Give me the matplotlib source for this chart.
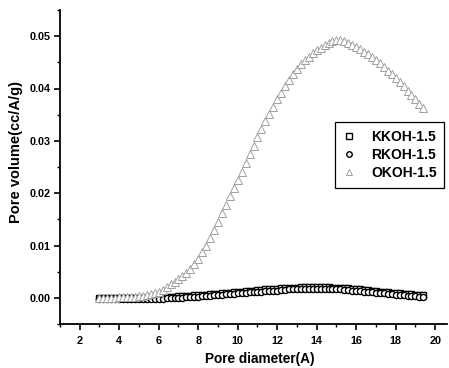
import matplotlib
matplotlib.use("Agg")
import matplotlib.pyplot as plt
from matplotlib.ticker import MultipleLocator

pore_diameter = [3.0, 3.2, 3.4, 3.6, 3.8, 4.0, 4.2, 4.4, 4.6, 4.8,
                 5.0, 5.2, 5.4, 5.6, 5.8, 6.0, 6.2, 6.4, 6.6, 6.8,
                 7.0, 7.2, 7.4, 7.6, 7.8, 8.0, 8.2, 8.4, 8.6, 8.8,
                 9.0, 9.2, 9.4, 9.6, 9.8, 10.0, 10.2, 10.4, 10.6, 10.8,
                 11.0, 11.2, 11.4, 11.6, 11.8, 12.0, 12.2, 12.4, 12.6, 12.8,
                 13.0, 13.2, 13.4, 13.6, 13.8, 14.0, 14.2, 14.4, 14.6, 14.8,
                 15.0, 15.2, 15.4, 15.6, 15.8, 16.0, 16.2, 16.4, 16.6, 16.8,
                 17.0, 17.2, 17.4, 17.6, 17.8, 18.0, 18.2, 18.4, 18.6, 18.8,
                 19.0, 19.2, 19.4]

kkoh = [0.0000, 0.0000, 0.0000, 0.0000, 0.0000, 0.0000, 0.0000, 0.0000, 0.0000, 0.0000,
        0.0000, 0.0000, 0.0000, 0.0001, 0.0001, 0.0001, 0.0001, 0.0002, 0.0002, 0.0002,
        0.0003, 0.0003, 0.0004, 0.0004, 0.0005, 0.0005, 0.0006, 0.0006, 0.0007, 0.0008,
        0.0008, 0.0009, 0.0010, 0.0010, 0.0011, 0.0012, 0.0012, 0.0013, 0.0014, 0.0014,
        0.0015, 0.0015, 0.0016, 0.0016, 0.0017, 0.0017, 0.0018, 0.0018, 0.0019, 0.0019,
        0.0019, 0.0020, 0.0020, 0.0020, 0.0020, 0.0020, 0.0020, 0.0020, 0.0020, 0.0019,
        0.0019, 0.0019, 0.0018, 0.0018, 0.0017, 0.0017, 0.0016, 0.0015, 0.0015, 0.0014,
        0.0013, 0.0012, 0.0012, 0.0011, 0.0010, 0.0009, 0.0009, 0.0008, 0.0007, 0.0007,
        0.0006, 0.0005, 0.0005]

rkoh = [-0.0003, -0.0003, -0.0003, -0.0003, -0.0003, -0.0003, -0.0003, -0.0003, -0.0003, -0.0003,
        -0.0003, -0.0003, -0.0003, -0.0002, -0.0002, -0.0002, -0.0002, -0.0001, -0.0001, -0.0001,
        0.0000, 0.0000, 0.0001, 0.0001, 0.0002, 0.0002, 0.0003, 0.0003, 0.0004, 0.0005,
        0.0005, 0.0006, 0.0007, 0.0007, 0.0008, 0.0009, 0.0009, 0.0010, 0.0011, 0.0011,
        0.0012, 0.0012, 0.0013, 0.0013, 0.0014, 0.0014, 0.0015, 0.0015, 0.0016, 0.0016,
        0.0016, 0.0017, 0.0017, 0.0017, 0.0017, 0.0017, 0.0017, 0.0017, 0.0017, 0.0016,
        0.0016, 0.0016, 0.0015, 0.0015, 0.0014, 0.0014, 0.0013, 0.0012, 0.0012, 0.0011,
        0.0010, 0.0009, 0.0009, 0.0008, 0.0007, 0.0006, 0.0006, 0.0005, 0.0004, 0.0004,
        0.0003, 0.0002, 0.0002]

okoh = [0.0000, 0.0000, 0.0000, 0.0000, 0.0000, 0.0001, 0.0001, 0.0001, 0.0002, 0.0002,
        0.0003, 0.0004, 0.0005, 0.0007, 0.0009, 0.0011, 0.0015, 0.0020, 0.0026, 0.0031,
        0.0036, 0.0041, 0.0047, 0.0055, 0.0064, 0.0075, 0.0087, 0.0100, 0.0114, 0.0129,
        0.0145, 0.0162, 0.0178, 0.0194, 0.0210, 0.0225, 0.0240, 0.0257, 0.0274, 0.0291,
        0.0307, 0.0322, 0.0337, 0.0351, 0.0365, 0.0379, 0.0392, 0.0404, 0.0416, 0.0427,
        0.0437, 0.0446, 0.0454, 0.0461, 0.0467, 0.0473, 0.0478, 0.0483, 0.0487, 0.0490,
        0.0492, 0.0492, 0.0490, 0.0487, 0.0483, 0.0479, 0.0475, 0.0470, 0.0465, 0.0460,
        0.0454, 0.0448, 0.0441, 0.0434, 0.0427, 0.0420, 0.0412, 0.0404, 0.0396, 0.0388,
        0.0380, 0.0371, 0.0363]

series_names = ["KKOH-1.5", "RKOH-1.5", "OKOH-1.5"]
x_label = "Pore diameter(A)"
y_label = "Pore volume(cc/A/g)"

plt.rcParams['font.family'] = ['Liberation Sans', 'DejaVu Sans']
plt.rcParams['font.weight'] = 'bold'

fig = plt.figure(figsize=(4.49, 3.68), dpi=100)
ax = fig.add_axes([60/449, 1-324/368, 387/449, 314/368])

ax.plot(pore_diameter, kkoh, linestyle='none', marker='s', markersize=4.2,
        markerfacecolor='white', markeredgecolor='black', markeredgewidth=1.0,
        label=series_names[0])
ax.plot(pore_diameter, rkoh, linestyle='none', marker='o', markersize=4.4,
        markerfacecolor='white', markeredgecolor='black', markeredgewidth=1.0,
        label=series_names[1])
ax.plot(pore_diameter, okoh, linestyle='none', marker='^', markersize=5.2,
        markerfacecolor='white', markeredgecolor='#a0a0a0', markeredgewidth=0.7,
        label=series_names[2])

ax.set_xlim(1.0, 20.6)
ax.set_ylim(-0.005, 0.055)
ax.xaxis.set_major_locator(MultipleLocator(2))
ax.xaxis.set_minor_locator(MultipleLocator(1))
ax.yaxis.set_major_locator(MultipleLocator(0.01))
ax.yaxis.set_minor_locator(MultipleLocator(0.005))
ax.yaxis.set_major_formatter(plt.FuncFormatter(lambda v, p: f"{v:.2f}"))

for s in ['top', 'right']:
    ax.spines[s].set_visible(False)
for s in ['left', 'bottom']:
    ax.spines[s].set_linewidth(1.3)

ax.tick_params(which='major', direction='out', length=4, width=1.2, labelsize=7.8)
ax.tick_params(axis='x', which='major', pad=5)
ax.tick_params(axis='y', which='major', pad=3)
ax.tick_params(which='minor', direction='out', length=2.5, width=1.0)
for lab in ax.get_xticklabels() + ax.get_yticklabels():
    lab.set_fontweight('bold')

ax.set_xlabel(x_label, fontsize=9.8, fontweight='bold')
ax.set_ylabel(y_label, fontsize=10.5, fontweight='bold')
ax.xaxis.set_label_coords((260 - 60) / 387, -28 / 314)
ax.yaxis.set_label_coords((23 - 60) / 387, (324 - 152) / 314)

leg = ax.legend(loc='upper left', bbox_to_anchor=((335 - 60) / 387, (324 - 122) / 314),
                frameon=True, fancybox=False, edgecolor='black', framealpha=1,
                fontsize=10, handlelength=0.9, handletextpad=1.15, borderpad=0.55,
                labelspacing=0.3, markerscale=0.9, borderaxespad=0)
leg.get_frame().set_linewidth(0.9)
for t in leg.get_texts():
    t.set_fontweight('bold')

fig.savefig("out.png", dpi=100)
